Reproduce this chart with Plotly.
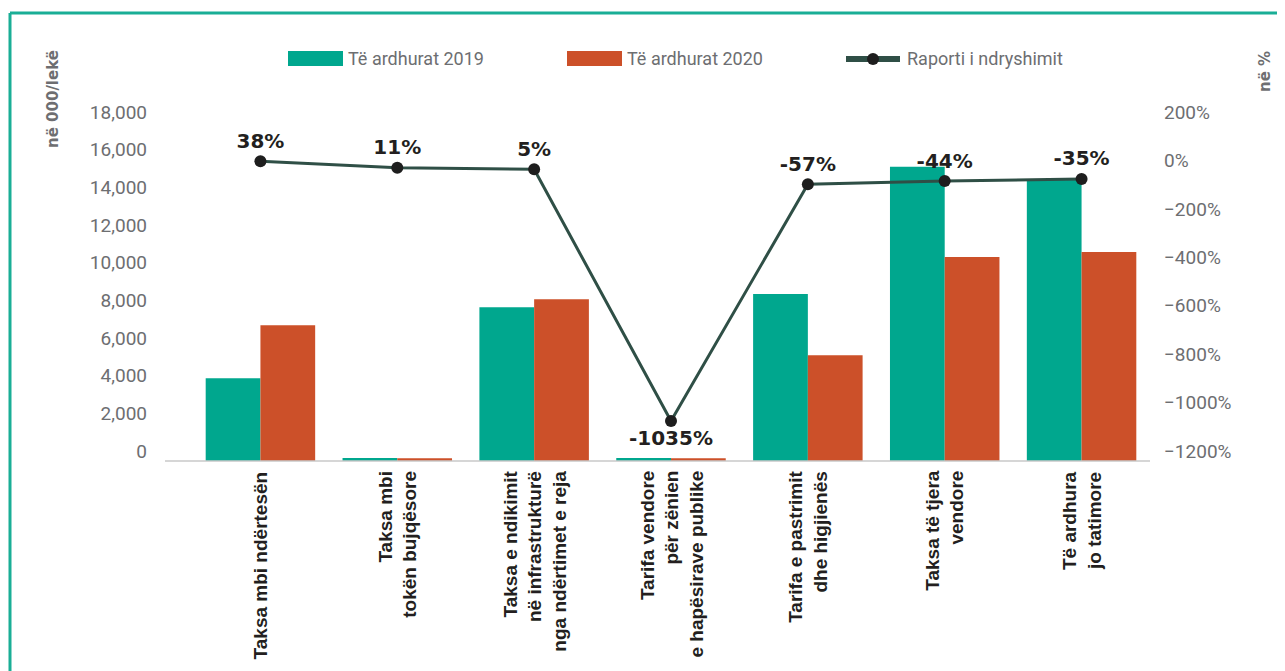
import plotly.graph_objects as go

categories = [
    "Taksa mbi ndërtesën",
    "Taksa mbi<br>tokën bujqësore",
    "Taksa e ndikimit<br>në infrastrukturë<br>nga ndërtimet e reja",
    "Tarifa vendore<br>për zënien<br>e hapësirave publike",
    "Tarifa e pastrimit<br>dhe higjienës",
    "Taksa të tjera<br>vendore",
    "Të ardhura<br>jo tatimore",
]
revenue_2019 = [4390, 160, 8160, 160, 8870, 15630, 14920]
revenue_2020 = [7205, 150, 8585, 150, 5610, 10830, 11100]
change_ratio = [38, 11, 5, -1035, -57, -44, -35]
change_labels = ["38%", "11%", "5%", "-1035%", "-57%", "-44%", "-35%"]
label_positions = ["top center", "top center", "top center", "bottom center",
                   "top center", "top center", "top center"]

TEAL = "#00a78e"
ORANGE = "#cc5029"
LINE = "#2f4f46"
GREY = "#6d6e71"
NARROW = "Roboto, Liberation Sans, sans-serif"

fig = go.Figure()
fig.add_trace(go.Bar(x=categories, y=revenue_2019, name="Të ardhurat 2019",
                     marker=dict(color=TEAL, line=dict(width=0)), showlegend=False))
fig.add_trace(go.Bar(x=categories, y=revenue_2020, name="Të ardhurat 2020",
                     marker=dict(color=ORANGE, line=dict(width=0)), showlegend=False))
fig.add_trace(go.Scatter(x=categories, y=change_ratio, yaxis="y2", name="Raporti i ndryshimit",
                         mode="lines+markers+text", text=change_labels,
                         textposition=label_positions,
                         textfont=dict(family="DejaVu Sans", size=20, color="#231f20", weight="bold"),
                         line=dict(color=LINE, width=3),
                         marker=dict(color="#1e1e1e", size=12),
                         showlegend=False, cliponaxis=False))

W, H = 1285, 671
OFF = 8  # page body margin
L, R_px, T, B_px = 192, 1150, 122, 461
pw, ph = R_px - L, B_px - T

def px(x):
    return (x - L) / pw

def py(y):
    return (B_px - y) / ph

shapes = []
shapes.append(dict(type="line", xref="paper", yref="paper", x0=px(10), x1=px(1320),
                   y0=py(13), y1=py(13), line=dict(color="#1aae96", width=3)))
shapes.append(dict(type="line", xref="paper", yref="paper", x0=px(10), x1=px(10),
                   y0=py(13), y1=py(720), line=dict(color="#1aae96", width=3)))
shapes.append(dict(type="line", xref="paper", yref="paper", x0=px(165), x1=1,
                   y0=0, y1=0, line=dict(color="#c8c8c8", width=1.5)))
shapes.append(dict(type="rect", xref="paper", yref="paper", x0=px(288), x1=px(343),
                   y0=py(66), y1=py(51), fillcolor=TEAL, line=dict(width=0)))
shapes.append(dict(type="rect", xref="paper", yref="paper", x0=px(567), x1=px(622),
                   y0=py(66), y1=py(51), fillcolor=ORANGE, line=dict(width=0)))
shapes.append(dict(type="line", xref="paper", yref="paper", x0=px(846), x1=px(900),
                   y0=py(59), y1=py(59), line=dict(color=LINE, width=6)))
shapes.append(dict(type="circle", xref="paper", yref="paper", x0=px(867), x1=px(879),
                   y0=py(65), y1=py(53), fillcolor="#1e1e1e", line=dict(width=0)))

annotations = [
    dict(text="Të ardhurat 2019", xref="paper", yref="paper", x=px(346), y=py(59),
         xanchor="left", yanchor="middle", showarrow=False,
         font=dict(family=NARROW, size=18, color=GREY)),
    dict(text="Të ardhurat 2020", xref="paper", yref="paper", x=px(625), y=py(59),
         xanchor="left", yanchor="middle", showarrow=False,
         font=dict(family=NARROW, size=18, color=GREY)),
    dict(text="Raporti i ndryshimit", xref="paper", yref="paper", x=px(905), y=py(59),
         xanchor="left", yanchor="middle", showarrow=False,
         font=dict(family=NARROW, size=18, color=GREY)),
    dict(text="<b>në 000/lekë</b>", xref="paper", yref="paper", x=px(53), y=py(99),
         xanchor="center", yanchor="middle", textangle=-90, showarrow=False,
         font=dict(family="DejaVu Sans", size=15, color=GREY)),
    dict(text="<b>në %</b>", xref="paper", yref="paper", x=px(1265), y=py(72),
         xanchor="center", yanchor="middle", textangle=-90, showarrow=False,
         font=dict(family="DejaVu Sans", size=15, color=GREY)),
]
for c in categories:
    annotations.append(dict(text=c, x=c, xref="x", y=0, yref="paper",
                            xanchor="center", yanchor="top", yshift=-8,
                            textangle=-90, align="right", showarrow=False,
                            font=dict(family="Liberation Sans, Arial, sans-serif", size=19,
                                      color="#231f20", weight="bold")))

fig.update_layout(
    width=W, height=H,
    margin=dict(l=L - OFF, r=W - (R_px - OFF), t=T - OFF, b=H - (B_px - OFF), pad=0),
    paper_bgcolor="white", plot_bgcolor="white",
    barmode="group", bargap=0.2, bargroupgap=0,
    shapes=shapes, annotations=annotations,
    xaxis=dict(showgrid=False, showline=False, zeroline=False, ticks="",
               showticklabels=False),
    yaxis=dict(range=[0, 18000], dtick=2000, tickformat=",", showgrid=False,
               zeroline=False, showline=False, ticks="", ticklabelstandoff=44,
               ticklabelshift=-10,
               tickfont=dict(family=NARROW, size=19, color=GREY)),
    yaxis2=dict(range=[-1200, 200], dtick=200, overlaying="y", side="right",
                ticksuffix="%", showgrid=False, zeroline=False, showline=False,
                ticks="", ticklabelstandoff=13, ticklabelshift=-10,
                tickfont=dict(family=NARROW, size=19, color=GREY)),
)

fig.write_html("out.html")
